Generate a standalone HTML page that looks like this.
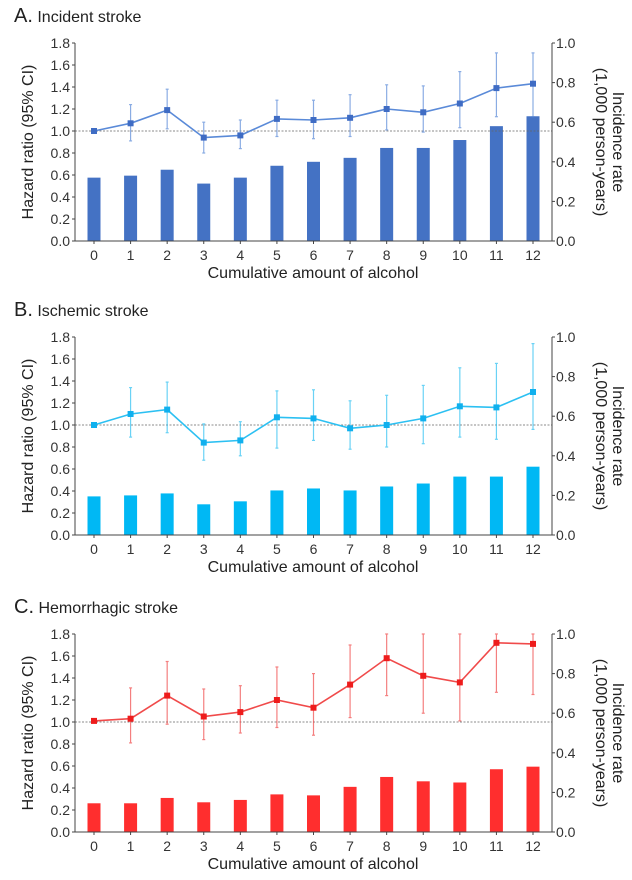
<!DOCTYPE html>
<html><head><meta charset="utf-8">
<style>
html,body{margin:0;padding:0;background:#fff;}
svg{display:block;font-family:"Liberation Sans",sans-serif;}
</style></head>
<body>
<svg id="fig" width="632" height="880" viewBox="0 0 632 880" xmlns="http://www.w3.org/2000/svg"></svg>
<script>
const categories = [0,1,2,3,4,5,6,7,8,9,10,11,12];
const leftTicks = [0.0,0.2,0.4,0.6,0.8,1.0,1.2,1.4,1.6,1.8];
const rightTicks = [0.0,0.2,0.4,0.6,0.8,1.0];

const hrA = [1.0,1.07,1.19,0.94,0.96,1.11,1.10,1.12,1.20,1.17,1.25,1.39,1.43];
const loA = [1.0,0.91,1.02,0.80,0.84,0.95,0.93,0.95,1.01,0.99,1.03,1.13,1.13];
const hiA = [1.0,1.24,1.38,1.08,1.10,1.28,1.28,1.33,1.42,1.41,1.54,1.71,1.71];
const incA = [0.32,0.33,0.36,0.29,0.32,0.38,0.40,0.42,0.47,0.47,0.51,0.58,0.63];

const hrB = [1.0,1.10,1.14,0.84,0.86,1.07,1.06,0.97,1.0,1.06,1.17,1.16,1.30];
const loB = [1.0,0.89,0.93,0.68,0.72,0.79,0.86,0.78,0.80,0.83,0.89,0.87,0.96];
const hiB = [1.0,1.34,1.39,1.01,1.03,1.31,1.32,1.22,1.27,1.36,1.52,1.56,1.74];
const incB = [0.195,0.20,0.21,0.155,0.17,0.225,0.235,0.225,0.245,0.26,0.295,0.295,0.345];

const hrC = [1.01,1.03,1.24,1.05,1.09,1.20,1.13,1.34,1.58,1.42,1.36,1.72,1.71];
const loC = [1.01,0.81,0.98,0.84,0.90,0.95,0.88,1.04,1.24,1.08,1.01,1.27,1.25];
const hiC = [1.01,1.31,1.55,1.30,1.33,1.50,1.44,1.70,1.80,1.80,1.80,1.80,1.80];
const incC = [0.145,0.145,0.172,0.15,0.162,0.19,0.185,0.228,0.278,0.256,0.25,0.317,0.33];

const NS="http://www.w3.org/2000/svg";
const svg=document.getElementById('fig');
function mk(tag,attrs,parent){const e=document.createElementNS(NS,tag);for(const k in attrs)e.setAttribute(k,attrs[k]);(parent||svg).appendChild(e);return e;}

function panel(cfg){
  const g=mk('g',{});
  
  
  const L=75,R=552,top=cfg.top,bot=cfg.bot;
  const x=i=>94+(533-94)*i/12;
  const y=v=>bot-(bot-top)*v/1.8;
  const yr=v=>bot-(bot-top)*v/1.0;
  const t=mk('text',{x:14,y:cfg.titleY,'font-size':20,fill:'#222'},g);
  
  
  t.innerHTML=cfg.letter+'<tspan font-size="16"> '+cfg.title+'</tspan>';
  cfg.inc.forEach((v,i)=>{
    const b=mk('rect',{x:x(i)-6.5,y:yr(v),width:13,height:bot-yr(v),fill:cfg.bar},g);
    
    
  });
  const rl=mk('line',{x1:L,x2:R,y1:y(1),y2:y(1),stroke:'#666','stroke-width':0.8,'stroke-dasharray':'2,1.5'},g);
  
  
  cfg.hr.forEach((v,i)=>{
    const e=mk('g',{stroke:cfg.line,'stroke-width':1.2,opacity:0.7},g);
    
    
    mk('line',{x1:x(i),x2:x(i),y1:y(cfg.lo[i]),y2:y(cfg.hi[i])},e);
    mk('line',{x1:x(i)-1.5,x2:x(i)+1.5,y1:y(cfg.lo[i]),y2:y(cfg.lo[i])},e);
    mk('line',{x1:x(i)-1.5,x2:x(i)+1.5,y1:y(cfg.hi[i]),y2:y(cfg.hi[i])},e);
  });
  const pl=mk('polyline',{points:cfg.hr.map((v,i)=>x(i)+','+y(v)).join(' '),fill:'none',stroke:cfg.line,'stroke-width':1.6},g);
  
  
  cfg.hr.forEach((v,i)=>{
    const p=mk('rect',{x:x(i)-3,y:y(v)-3,width:6,height:6,fill:cfg.pt},g);
    
    
  });
  const ax=mk('g',{stroke:'#444','stroke-width':1,fill:'none'},g);
  
  
  mk('line',{x1:L,x2:L,y1:top,y2:bot},ax);
  mk('line',{x1:R,x2:R,y1:top,y2:bot},ax);
  mk('line',{x1:L,x2:R,y1:bot,y2:bot},ax);
  leftTicks.forEach(v=>{
    mk('line',{x1:L-3,x2:L,y1:y(v),y2:y(v)},ax);
    const tt=mk('text',{x:L-5,y:y(v)+5,'font-size':14,'text-anchor':'end',fill:'#333',stroke:'none'},g);
    
    
    tt.textContent=v.toFixed(1);
  });
  rightTicks.forEach(v=>{
    mk('line',{x1:R,x2:R+3,y1:yr(v),y2:yr(v)},ax);
    const tt=mk('text',{x:R+4,y:yr(v)+5,'font-size':14,fill:'#333',stroke:'none'},g);
    
    
    tt.textContent=v.toFixed(1);
  });
  categories.forEach((c,i)=>{
    mk('line',{x1:x(i),x2:x(i),y1:bot,y2:bot+3},ax);
    const tt=mk('text',{x:x(i),y:bot+19,'font-size':14,'text-anchor':'middle',fill:'#333'},g);
    
    
    tt.textContent=c;
  });
  const xt=mk('text',{x:313,y:bot+37,'font-size':16,'text-anchor':'middle',fill:'#222'},g);
  
  
  xt.textContent='Cumulative amount of alcohol';
  const mid=(top+bot)/2;
  const yt=mk('text',{x:0,y:0,'font-size':16,'text-anchor':'middle',fill:'#222',transform:'translate(33,'+mid+') rotate(-90)'},g);
  
  
  yt.textContent='Hazard ratio (95% CI)';
  const rt=mk('text',{x:0,y:0,'font-size':16,'text-anchor':'middle',fill:'#222',transform:'translate('+(R+56)+','+mid+') rotate(90)'},g);
  
  
  rt.innerHTML='<tspan x="0" dy="-5">Incidence rate</tspan><tspan x="0" dy="17">(1,000 person-years)</tspan>';
}
panel({name:'panel-a-incident-stroke',letter:'A.',title:'Incident stroke',titleY:22,top:43,bot:241,hr:hrA,lo:loA,hi:hiA,inc:incA,bar:'#4472c4',line:'#5a8ad8',pt:'#3f6cc4'});
panel({name:'panel-b-ischemic-stroke',letter:'B.',title:'Ischemic stroke',titleY:316,top:337,bot:535,hr:hrB,lo:loB,hi:hiB,inc:incB,bar:'#00b8f4',line:'#2cc0f2',pt:'#10b0ee'});
panel({name:'panel-c-hemorrhagic-stroke',letter:'C.',title:'Hemorrhagic stroke',titleY:613,top:634,bot:832,hr:hrC,lo:loC,hi:hiC,inc:incC,bar:'#ff2e2e',line:'#f04a4a',pt:'#ee1c1c'});
</script>
</body></html>
